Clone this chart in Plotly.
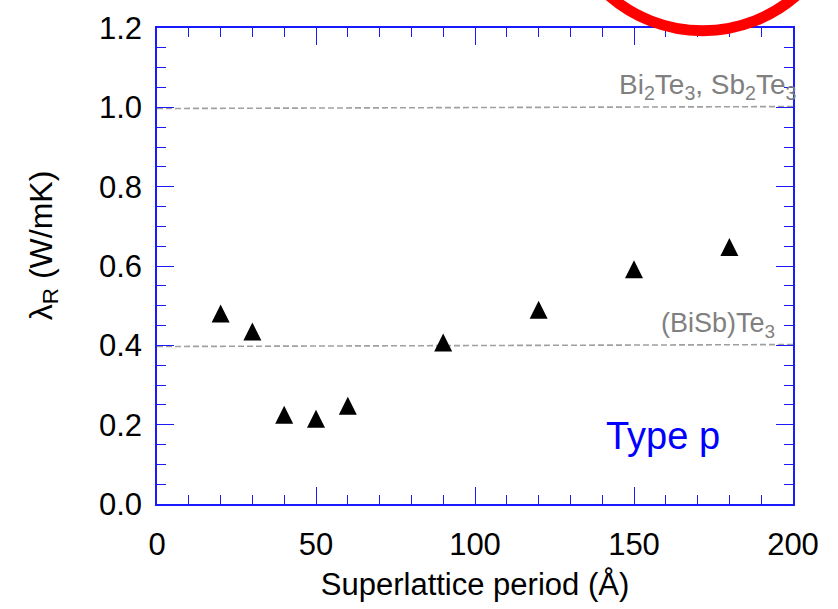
import plotly.graph_objects as go

# Data
period = [20, 30, 40, 50, 60, 90, 120, 150, 180]
lambda_r = [0.48, 0.435, 0.225, 0.215, 0.248, 0.407, 0.49, 0.592, 0.648]

ref_x = [0, 202]
ref_bite = [0.997, 1.002]   # Bi2Te3, Sb2Te3
ref_bisb = [0.397, 0.402]   # (BiSb)Te3

x_ticks = [0, 50, 100, 150, 200]
y_ticks = [0.0, 0.2, 0.4, 0.6, 0.8, 1.0, 1.2]

FONT = "Arial, Liberation Sans, sans-serif"
BLUE = "#1a1aff"
GRAY_LINE = "#a0a0a0"
GRAY_TEXT = "#808080"

fig = go.Figure()

fig.add_trace(go.Scatter(x=ref_x, y=ref_bite, mode="lines",
                         line=dict(color=GRAY_LINE, width=1.6, dash="6px,3px"),
                         cliponaxis=False, hoverinfo="skip", showlegend=False))
fig.add_trace(go.Scatter(x=ref_x, y=ref_bisb, mode="lines",
                         line=dict(color=GRAY_LINE, width=1.6, dash="6px,3px"),
                         cliponaxis=False, hoverinfo="skip", showlegend=False))

fig.add_trace(go.Scatter(x=period, y=lambda_r, mode="markers",
                         marker=dict(symbol="arrow-down", angle=180, standoff=9,
                                     size=18, color="black",
                                     line=dict(width=0)),
                         showlegend=False))

axis_common = dict(
    showgrid=False, zeroline=False, showline=True, linecolor=BLUE, linewidth=1.5,
    mirror="ticks", ticks="inside", ticklen=17, tickwidth=1.2, tickcolor=BLUE,
    tickfont=dict(family=FONT, size=31, color="black"),
)

fig.update_xaxes(
    range=[0, 200], tickvals=x_ticks, ticktext=[str(v) for v in x_ticks],
    minor=dict(dtick=10, tick0=0, ticks="inside", ticklen=9, tickwidth=1.2, tickcolor=BLUE),
    ticklabelstandoff=12,
    title=dict(text="Superlattice period (Å)", font=dict(family=FONT, size=31, color="black"),
               standoff=12),
    **axis_common,
)
fig.update_yaxes(
    range=[0, 1.2], tickvals=y_ticks, ticktext=[f"{v:.1f}" for v in y_ticks],
    minor=dict(dtick=0.05, tick0=0, ticks="inside", ticklen=9, tickwidth=1.2, tickcolor=BLUE),
    ticklabelstandoff=7,
    **axis_common,
)

annotations = [
    dict(x=-0.1786, y=0.5426, xref="paper", yref="paper", text="λ<sub>R</sub> (W/mK)",
         textangle=-90, showarrow=False, xanchor="center", yanchor="middle",
         font=dict(family=FONT, size=32, color="black")),
    dict(x=200, y=1.0, xref="x", yref="y", text="Bi<sub>2</sub>Te<sub>3</sub>, Sb<sub>2</sub>Te<sub>3</sub>",
         showarrow=False, xanchor="right", yanchor="bottom", xshift=6, yshift=1,
         font=dict(family=FONT, size=28, color=GRAY_TEXT)),
    dict(x=195, y=0.4, xref="x", yref="y", text="(BiSb)Te<sub>3</sub>",
         showarrow=False, xanchor="right", yanchor="bottom", yshift=1,
         font=dict(family=FONT, size=27, color=GRAY_TEXT)),
    dict(x=159, y=0.172, xref="x", yref="y", text="Type p",
         showarrow=False, xanchor="center", yanchor="middle",
         font=dict(family=FONT, size=38, color="blue")),
]

fig.update_layout(
    width=838, height=609,
    margin=dict(l=157, r=45, t=28, b=105),
    paper_bgcolor="white", plot_bgcolor="white",
    annotations=annotations,
    shapes=[dict(type="circle", xref="paper", yref="paper",
                 x0=0.6345, x1=1.0815, y0=0.9943, y1=1.591,
                 line=dict(color="red", width=11), layer="above")],
)

fig.write_html("out.html")
